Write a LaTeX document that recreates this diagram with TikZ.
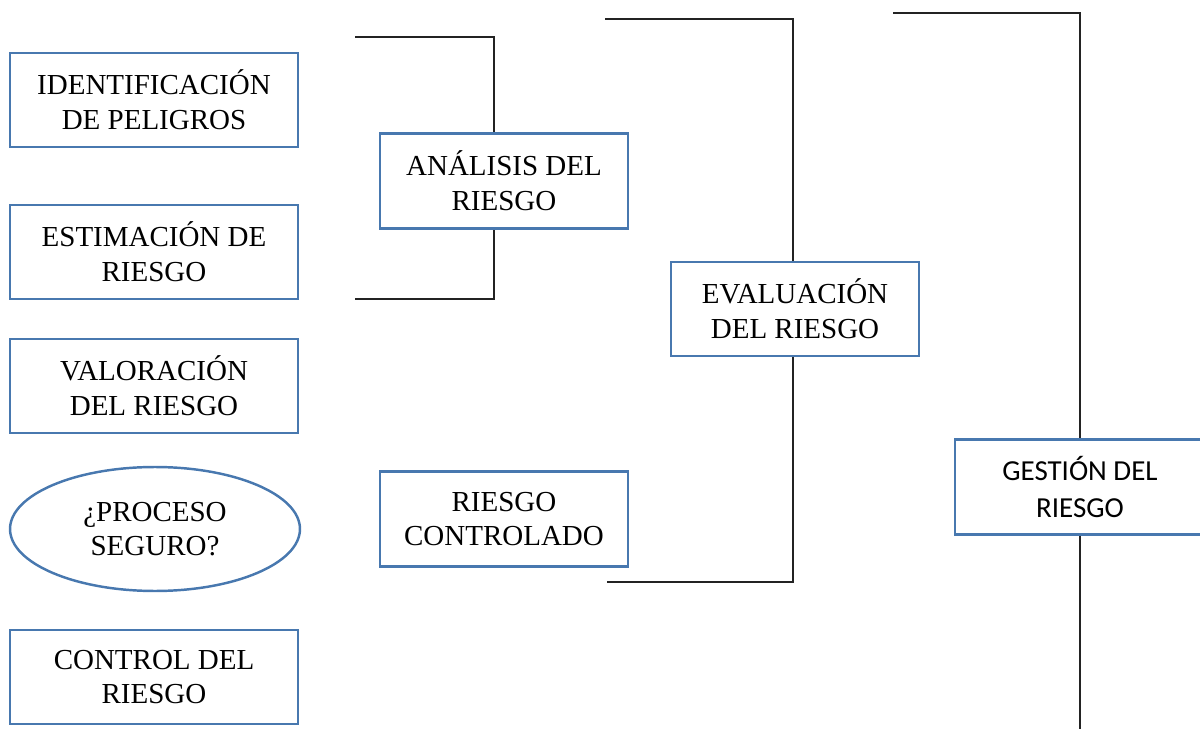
\documentclass[tikz,border=0pt]{standalone}
\usepackage{fontspec}
\setmainfont{Liberation Serif}
\newfontfamily\gestfont{Carlito}
\usepackage{tikz}
\usetikzlibrary{shapes.geometric}
\usetikzlibrary{positioning}
\definecolor{boxblue}{RGB}{72,120,175}
\definecolor{linegray}{RGB}{35,35,35}

\begin{document}
\begin{tikzpicture}[x=0.02cm,y=-0.02cm,
	every node/.style={align=center,font=\fontsize{16.5}{19.8}\selectfont},
	stagebox/.style={draw=boxblue,line width=1.4pt,rectangle,inner sep=0pt,
		minimum width=5.76cm,minimum height=1.88cm},
	groupbox/.style={stagebox,minimum width=4.96cm,minimum height=1.9cm},
	bracket/.style={draw=linegray,line width=0.95pt}
	]
	\useasboundingbox (0,0) rectangle (1200,729);

	% left column
	\node[stagebox] at (154,100) (ident) {IDENTIFICACIÓN\\DE PELIGROS};
	\node[stagebox] at (154,252) (estim) {ESTIMACIÓN DE\\RIESGO};
	\node[stagebox] at (154,386) (valor) {VALORACIÓN\\DEL RIESGO};
	\node[draw=boxblue,line width=1.4pt,ellipse,inner sep=0pt,
		minimum width=5.8cm,minimum height=2.48cm] at (155,529) (proc) {¿PROCESO\\SEGURO?};
	\node[stagebox] at (154,677) (control) {CONTROL DEL\\RIESGO};

	% groups
	\node[groupbox] at (504,181) (analisis) {ANÁLISIS DEL\\RIESGO};
	\node[groupbox] at (504,519) (controlado) {RIESGO\\CONTROLADO};
	\node[groupbox,minimum height=1.88cm] at (795,309) (evaluacion) {EVALUACIÓN\\DEL RIESGO};
	\node[groupbox,minimum width=5cm,
		font=\gestfont\fontsize{16.5}{21.5}\selectfont] at (1080,487) (gestion) {GESTIÓN DEL\\RIESGO};

	%brackets:
	\coordinate (atop) at (355,37);
	\coordinate (abot) at (355,299);
	\coordinate (acol) at (494,37);
	\draw[bracket] (atop) -| (analisis.north -| acol);
	\draw[bracket] (abot) -| (analisis.south -| acol);

	\coordinate (etop) at (605,19);
	\coordinate (ebot) at (607,582);
	\coordinate (ecol) at (793,19);
	\draw[bracket] (etop) -| (evaluacion.north -| ecol);
	\draw[bracket] (ebot) -| (evaluacion.south -| ecol);

	\coordinate (gtop) at (893,13);
	\coordinate (gcol) at (1080,13);
	\coordinate (gend) at (1080,735);
	\draw[bracket] (gtop) -| (gestion.north -| gcol);
	\draw[bracket] (gestion.south -| gcol) -- (gend);
\end{tikzpicture}
\end{document}
